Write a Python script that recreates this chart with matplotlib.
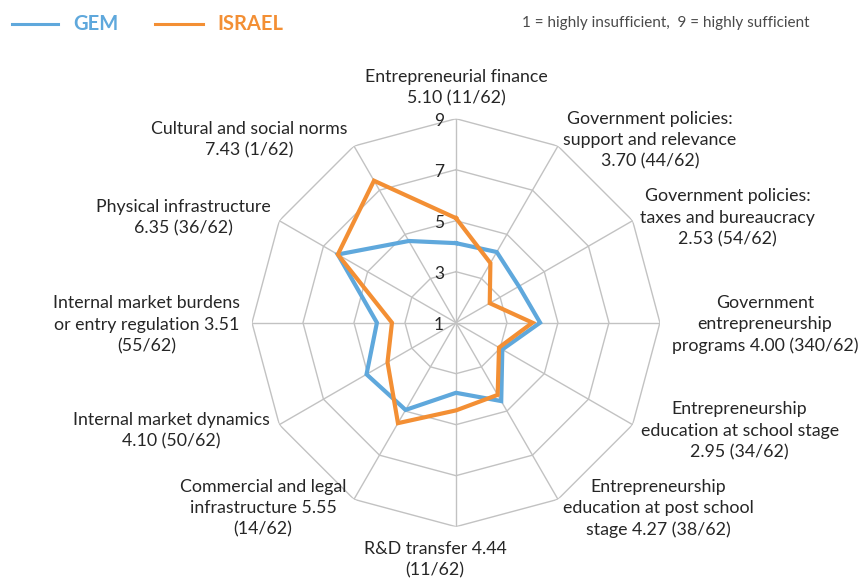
import numpy as np
import matplotlib
matplotlib.use("Agg")
import matplotlib.pyplot as plt
from matplotlib.lines import Line2D

# Framework conditions, clockwise from the top
categories = [
    "Entrepreneurial finance\n5.10 (11/62)",
    "Government policies:\nsupport and relevance\n3.70 (44/62)",
    "Government policies:\ntaxes and bureaucracy\n2.53 (54/62)",
    "Government\nentrepreneurship\nprograms 4.00 (340/62)",
    "Entrepreneurship\neducation at school stage\n2.95 (34/62)",
    "Entrepreneurship\neducation at post school\nstage 4.27 (38/62)",
    "R&D transfer 4.44\n(11/62)",
    "Commercial and legal\ninfrastructure 5.55\n(14/62)",
    "Internal market dynamics\n4.10 (50/62)",
    "Internal market burdens\nor entry regulation 3.51\n(55/62)",
    "Physical infrastructure\n6.35 (36/62)",
    "Cultural and social norms\n7.43 (1/62)",
]
israel = [5.10, 3.70, 2.53, 4.00, 2.95, 4.27, 4.44, 5.55, 4.10, 3.51, 6.35, 7.43]
gem = [4.12, 4.20, 3.85, 4.30, 3.10, 4.55, 3.75, 4.95, 5.05, 4.10, 6.35, 4.70]
rings = [3, 5, 7, 9]
tick_labels = ["1", "3", "5", "7", "9"]

BLUE = "#5fa8dc"
ORANGE = "#f38f34"
GRID = "#c2c2c2"
TEXT = "#262626"

plt.rcParams["font.family"] = ["Lato", "DejaVu Sans"]

fig = plt.figure(figsize=(8.68, 5.81), dpi=100)
ax = fig.add_axes([0.2903, 0.0935, 0.470, 0.7022], projection="polar")
ax.set_theta_zero_location("N")
ax.set_theta_direction(-1)
ax.set_ylim(1, 9)
ax.grid(False)
ax.spines["polar"].set_visible(False)
ax.set_xticks([])
ax.set_yticks([])
ax.patch.set_visible(False)

n = len(categories)
angles = np.arange(n) * 2 * np.pi / n
closed = np.append(angles, angles[0])

# polygon rings and spokes
for r in rings:
    ax.plot(closed, [r] * (n + 1), color=GRID, lw=1, zorder=1)
for a in angles:
    ax.plot([a, a], [1, 9], color=GRID, lw=1, zorder=1)

ax.plot(closed, gem + gem[:1], color=BLUE, lw=3.0, zorder=3, solid_joinstyle="miter")
ax.plot(closed, israel + israel[:1], color=ORANGE, lw=3.0, zorder=4, solid_joinstyle="miter")

# radial scale along the top spoke
for v, t in zip([1] + rings, tick_labels):
    ax.annotate(t, xy=(0, v), xytext=(-12, -2), textcoords="offset pixels",
                ha="right", va="center", fontsize=12.5, color=TEXT)

# category labels around the outer ring
offsets = [(0, 31), (92, 6), (95, 3), (105, -2), (107, -6), (100, -9),
           (-21, -33), (-91, -9), (-108, -6), (-105, -2), (-96, 3), (-105, 6)]
for a, lab, off in zip(angles, categories, offsets):
    ax.annotate(lab, xy=(a, 9), xytext=off, textcoords="offset pixels",
                ha="center", va="center", multialignment="center",
                fontsize=12.8, color=TEXT, linespacing=1.4,
                annotation_clip=False)

# legend and scale note
y_top = 1 - 23.5 / 581
fig.add_artist(Line2D([12 / 868, 58 / 868], [y_top] * 2, color=BLUE, lw=2.2))
fig.add_artist(Line2D([155 / 868, 203 / 868], [y_top] * 2, color=ORANGE, lw=2.2))
fig.text(73 / 868, y_top, "GEM", color=BLUE, fontsize=14.5, fontweight="bold",
         ha="left", va="center")
fig.text(217 / 868, y_top, "ISRAEL", color=ORANGE, fontsize=14.5, fontweight="bold",
         ha="left", va="center")
fig.text(810 / 868, y_top, "1 = highly insufficient,  9 = highly sufficient",
         color="#4a4a4a", fontsize=11, ha="right", va="center")

fig.savefig("out.png", dpi=100, facecolor="white")
